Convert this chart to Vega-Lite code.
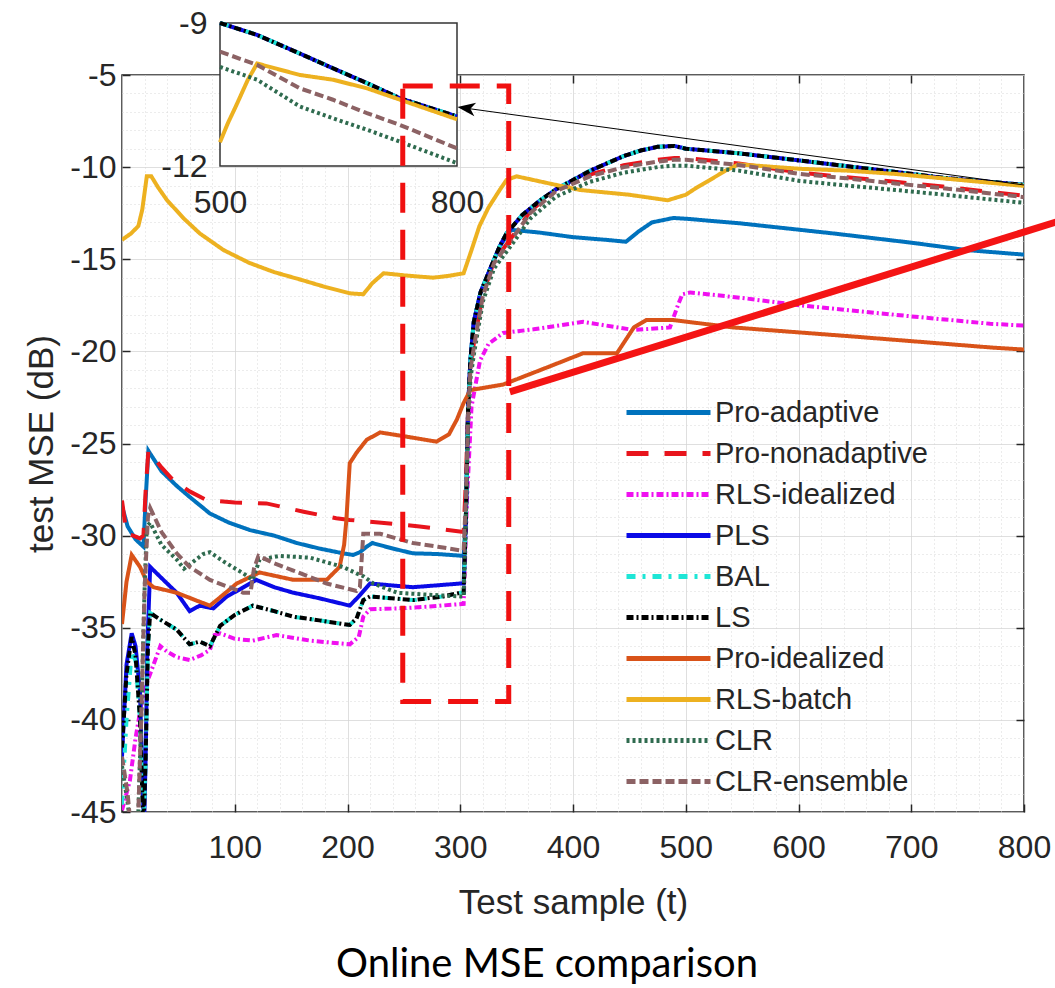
{
  "$schema": "https://vega.github.io/schema/vega-lite/v6.json",
  "width": 902,
  "height": 737,
  "autosize": "none",
  "padding": {"left": 122, "top": 75, "right": 31, "bottom": 176},
  "background": "white",
  "title": {"text": "Online MSE comparison", "orient": "bottom", "anchor": "middle", "font": "Lato", "fontSize": 40, "fontWeight": "normal", "color": "#000000", "offset": 25, "dx": -26},
  "datasets": {
    "mse": [
      {"s":"Pro-adaptive","t":0,"v":-28.4},{"s":"Pro-adaptive","t":5,"v":-29.5},{"s":"Pro-adaptive","t":12,"v":-30.2},{"s":"Pro-adaptive","t":19,"v":-30.6},{"s":"Pro-adaptive","t":21,"v":-28},{"s":"Pro-adaptive","t":23.4,"v":-25.4},{"s":"Pro-adaptive","t":35,"v":-26.5},{"s":"Pro-adaptive","t":48.5,"v":-27.3},{"s":"Pro-adaptive","t":60,"v":-27.9},{"s":"Pro-adaptive","t":78,"v":-28.8},{"s":"Pro-adaptive","t":95,"v":-29.3},{"s":"Pro-adaptive","t":113.5,"v":-29.7},{"s":"Pro-adaptive","t":135,"v":-30.0},{"s":"Pro-adaptive","t":155,"v":-30.4},{"s":"Pro-adaptive","t":175,"v":-30.7},{"s":"Pro-adaptive","t":196,"v":-30.96},{"s":"Pro-adaptive","t":205,"v":-31.05},{"s":"Pro-adaptive","t":211,"v":-30.9},{"s":"Pro-adaptive","t":217,"v":-30.6},{"s":"Pro-adaptive","t":222,"v":-30.4},{"s":"Pro-adaptive","t":240,"v":-30.7},{"s":"Pro-adaptive","t":258,"v":-30.96},{"s":"Pro-adaptive","t":280,"v":-31.0},{"s":"Pro-adaptive","t":303,"v":-31.1},{"s":"Pro-adaptive","t":305,"v":-29},{"s":"Pro-adaptive","t":307,"v":-23},{"s":"Pro-adaptive","t":309,"v":-20.5},{"s":"Pro-adaptive","t":312,"v":-18.4},{"s":"Pro-adaptive","t":318,"v":-16.8},{"s":"Pro-adaptive","t":326,"v":-15.6},{"s":"Pro-adaptive","t":335,"v":-14.3},{"s":"Pro-adaptive","t":345,"v":-13.4},{"s":"Pro-adaptive","t":370,"v":-13.55},{"s":"Pro-adaptive","t":400,"v":-13.8},{"s":"Pro-adaptive","t":430,"v":-13.95},{"s":"Pro-adaptive","t":447,"v":-14.05},{"s":"Pro-adaptive","t":458,"v":-13.5},{"s":"Pro-adaptive","t":470,"v":-13.0},{"s":"Pro-adaptive","t":489,"v":-12.76},{"s":"Pro-adaptive","t":500,"v":-12.8},{"s":"Pro-adaptive","t":548,"v":-13.05},{"s":"Pro-adaptive","t":631,"v":-13.6},{"s":"Pro-adaptive","t":700,"v":-14.1},{"s":"Pro-adaptive","t":749,"v":-14.5},{"s":"Pro-adaptive","t":800,"v":-14.75},

      {"s":"Pro-nonadaptive","t":0,"v":-28.1},{"s":"Pro-nonadaptive","t":4,"v":-29.9},{"s":"Pro-nonadaptive","t":10,"v":-30.0},{"s":"Pro-nonadaptive","t":16,"v":-30.15},{"s":"Pro-nonadaptive","t":19,"v":-30.0},{"s":"Pro-nonadaptive","t":21,"v":-27.5},{"s":"Pro-nonadaptive","t":23.4,"v":-25.4},{"s":"Pro-nonadaptive","t":35,"v":-26.3},{"s":"Pro-nonadaptive","t":45.5,"v":-27.0},{"s":"Pro-nonadaptive","t":60,"v":-27.6},{"s":"Pro-nonadaptive","t":75,"v":-28.07},{"s":"Pro-nonadaptive","t":100,"v":-28.2},{"s":"Pro-nonadaptive","t":128,"v":-28.25},{"s":"Pro-nonadaptive","t":161,"v":-28.7},{"s":"Pro-nonadaptive","t":190,"v":-29.06},{"s":"Pro-nonadaptive","t":202,"v":-29.15},{"s":"Pro-nonadaptive","t":230,"v":-29.3},{"s":"Pro-nonadaptive","t":264,"v":-29.5},{"s":"Pro-nonadaptive","t":303,"v":-29.8},{"s":"Pro-nonadaptive","t":305,"v":-27},{"s":"Pro-nonadaptive","t":307,"v":-23},{"s":"Pro-nonadaptive","t":309,"v":-20.8},{"s":"Pro-nonadaptive","t":312,"v":-19.6},{"s":"Pro-nonadaptive","t":320,"v":-16.9},{"s":"Pro-nonadaptive","t":330,"v":-15.1},{"s":"Pro-nonadaptive","t":347,"v":-13.7},{"s":"Pro-nonadaptive","t":362,"v":-12.4},{"s":"Pro-nonadaptive","t":385,"v":-11.2},{"s":"Pro-nonadaptive","t":415,"v":-10.4},{"s":"Pro-nonadaptive","t":445,"v":-9.9},{"s":"Pro-nonadaptive","t":475,"v":-9.6},{"s":"Pro-nonadaptive","t":490,"v":-9.5},{"s":"Pro-nonadaptive","t":500,"v":-9.5},{"s":"Pro-nonadaptive","t":547,"v":-9.8},{"s":"Pro-nonadaptive","t":601,"v":-10.3},{"s":"Pro-nonadaptive","t":643,"v":-10.55},{"s":"Pro-nonadaptive","t":686,"v":-10.8},{"s":"Pro-nonadaptive","t":728,"v":-11.05},{"s":"Pro-nonadaptive","t":800,"v":-11.55},

      {"s":"RLS-idealized","t":0,"v":-44.9},{"s":"RLS-idealized","t":7,"v":-43.3},{"s":"RLS-idealized","t":12,"v":-41},{"s":"RLS-idealized","t":17,"v":-39.2},{"s":"RLS-idealized","t":22,"v":-38.0},{"s":"RLS-idealized","t":28,"v":-37},{"s":"RLS-idealized","t":34,"v":-36.0},{"s":"RLS-idealized","t":40,"v":-36.3},{"s":"RLS-idealized","t":48.5,"v":-36.6},{"s":"RLS-idealized","t":60,"v":-36.75},{"s":"RLS-idealized","t":70,"v":-36.5},{"s":"RLS-idealized","t":78,"v":-36.2},{"s":"RLS-idealized","t":82,"v":-35.4},{"s":"RLS-idealized","t":87,"v":-35.3},{"s":"RLS-idealized","t":100,"v":-35.6},{"s":"RLS-idealized","t":116,"v":-35.7},{"s":"RLS-idealized","t":137,"v":-35.4},{"s":"RLS-idealized","t":167,"v":-35.7},{"s":"RLS-idealized","t":202,"v":-35.9},{"s":"RLS-idealized","t":210,"v":-35.5},{"s":"RLS-idealized","t":214,"v":-34.4},{"s":"RLS-idealized","t":220,"v":-34.0},{"s":"RLS-idealized","t":245,"v":-33.95},{"s":"RLS-idealized","t":273,"v":-33.85},{"s":"RLS-idealized","t":303,"v":-33.7},{"s":"RLS-idealized","t":306,"v":-28},{"s":"RLS-idealized","t":310,"v":-23},{"s":"RLS-idealized","t":317.5,"v":-20.5},{"s":"RLS-idealized","t":325,"v":-19.6},{"s":"RLS-idealized","t":338,"v":-19.0},{"s":"RLS-idealized","t":365,"v":-18.8},{"s":"RLS-idealized","t":409,"v":-18.4},{"s":"RLS-idealized","t":454,"v":-18.84},{"s":"RLS-idealized","t":486,"v":-18.7},{"s":"RLS-idealized","t":493,"v":-17.5},{"s":"RLS-idealized","t":497,"v":-16.9},{"s":"RLS-idealized","t":504,"v":-16.8},{"s":"RLS-idealized","t":550,"v":-17.1},{"s":"RLS-idealized","t":601,"v":-17.5},{"s":"RLS-idealized","t":700,"v":-18.1},{"s":"RLS-idealized","t":770,"v":-18.5},{"s":"RLS-idealized","t":800,"v":-18.6},

      {"s":"PLS","t":0,"v":-42},{"s":"PLS","t":4,"v":-37},{"s":"PLS","t":8.6,"v":-35.3},{"s":"PLS","t":12,"v":-36},{"s":"PLS","t":16,"v":-38.5},{"s":"PLS","t":18,"v":-43},{"s":"PLS","t":19.5,"v":-46},{"s":"PLS","t":21,"v":-42},{"s":"PLS","t":22.5,"v":-36},{"s":"PLS","t":25,"v":-31.7},{"s":"PLS","t":35,"v":-32.3},{"s":"PLS","t":48.5,"v":-33.1},{"s":"PLS","t":60,"v":-34.1},{"s":"PLS","t":69,"v":-33.8},{"s":"PLS","t":81,"v":-33.95},{"s":"PLS","t":93,"v":-33.3},{"s":"PLS","t":105,"v":-32.9},{"s":"PLS","t":119,"v":-32.4},{"s":"PLS","t":135,"v":-32.8},{"s":"PLS","t":152,"v":-33.1},{"s":"PLS","t":175,"v":-33.4},{"s":"PLS","t":202,"v":-33.8},{"s":"PLS","t":210,"v":-33.3},{"s":"PLS","t":220,"v":-32.6},{"s":"PLS","t":258,"v":-32.8},{"s":"PLS","t":300,"v":-32.6},{"s":"PLS","t":303,"v":-32.6},{"s":"PLS","t":305,"v":-29},{"s":"PLS","t":307,"v":-23},{"s":"PLS","t":309,"v":-20.5},{"s":"PLS","t":312,"v":-18.4},{"s":"PLS","t":318,"v":-16.8},{"s":"PLS","t":326,"v":-15.6},{"s":"PLS","t":335,"v":-14.3},{"s":"PLS","t":341,"v":-13.6},{"s":"PLS","t":355,"v":-12.6},{"s":"PLS","t":371,"v":-11.8},{"s":"PLS","t":385,"v":-11.2},{"s":"PLS","t":400,"v":-10.7},{"s":"PLS","t":415,"v":-10.2},{"s":"PLS","t":430,"v":-9.8},{"s":"PLS","t":445,"v":-9.4},{"s":"PLS","t":460,"v":-9.1},{"s":"PLS","t":475,"v":-8.9},{"s":"PLS","t":490,"v":-8.85},{"s":"PLS","t":500,"v":-9.0},{"s":"PLS","t":547,"v":-9.25},{"s":"PLS","t":601,"v":-9.64},{"s":"PLS","t":643,"v":-9.95},{"s":"PLS","t":686,"v":-10.26},{"s":"PLS","t":728,"v":-10.58},{"s":"PLS","t":800,"v":-10.96},

      {"s":"BAL","t":0,"v":-44.6},{"s":"BAL","t":4,"v":-40},{"s":"BAL","t":8.6,"v":-36.3},{"s":"BAL","t":12,"v":-36.8},{"s":"BAL","t":16,"v":-40},{"s":"BAL","t":19,"v":-46},{"s":"BAL","t":21,"v":-42},{"s":"BAL","t":23,"v":-36},{"s":"BAL","t":25,"v":-34.2},{"s":"BAL","t":35,"v":-34.6},{"s":"BAL","t":48.5,"v":-35.1},{"s":"BAL","t":60,"v":-35.9},{"s":"BAL","t":69,"v":-35.75},{"s":"BAL","t":78,"v":-36.0},{"s":"BAL","t":87,"v":-34.9},{"s":"BAL","t":100,"v":-34.3},{"s":"BAL","t":116,"v":-33.8},{"s":"BAL","t":135,"v":-34.1},{"s":"BAL","t":152,"v":-34.4},{"s":"BAL","t":175,"v":-34.6},{"s":"BAL","t":202,"v":-34.85},{"s":"BAL","t":208,"v":-34.5},{"s":"BAL","t":214,"v":-33.5},{"s":"BAL","t":220,"v":-33.3},{"s":"BAL","t":258,"v":-33.5},{"s":"BAL","t":285,"v":-33.3},{"s":"BAL","t":300,"v":-33.1},{"s":"BAL","t":303,"v":-33.1},{"s":"BAL","t":305,"v":-29},{"s":"BAL","t":307,"v":-23},{"s":"BAL","t":309,"v":-20.5},{"s":"BAL","t":312,"v":-18.4},{"s":"BAL","t":318,"v":-16.8},{"s":"BAL","t":326,"v":-15.6},{"s":"BAL","t":335,"v":-14.3},{"s":"BAL","t":341,"v":-13.6},{"s":"BAL","t":355,"v":-12.6},{"s":"BAL","t":371,"v":-11.8},{"s":"BAL","t":385,"v":-11.2},{"s":"BAL","t":400,"v":-10.7},{"s":"BAL","t":415,"v":-10.2},{"s":"BAL","t":430,"v":-9.8},{"s":"BAL","t":445,"v":-9.4},{"s":"BAL","t":460,"v":-9.1},{"s":"BAL","t":475,"v":-8.9},{"s":"BAL","t":490,"v":-8.85},{"s":"BAL","t":500,"v":-9.0},{"s":"BAL","t":547,"v":-9.25},{"s":"BAL","t":601,"v":-9.64},{"s":"BAL","t":643,"v":-9.95},{"s":"BAL","t":686,"v":-10.26},{"s":"BAL","t":728,"v":-10.58},{"s":"BAL","t":800,"v":-10.96},

      {"s":"LS","t":0,"v":-41.5},{"s":"LS","t":4,"v":-37.5},{"s":"LS","t":8.6,"v":-35.5},{"s":"LS","t":12,"v":-36.5},{"s":"LS","t":16,"v":-40},{"s":"LS","t":19,"v":-46},{"s":"LS","t":21,"v":-42},{"s":"LS","t":23,"v":-36},{"s":"LS","t":25,"v":-34.2},{"s":"LS","t":35,"v":-34.6},{"s":"LS","t":48.5,"v":-35.1},{"s":"LS","t":60,"v":-35.9},{"s":"LS","t":69,"v":-35.75},{"s":"LS","t":78,"v":-36.0},{"s":"LS","t":87,"v":-34.9},{"s":"LS","t":100,"v":-34.3},{"s":"LS","t":116,"v":-33.8},{"s":"LS","t":135,"v":-34.1},{"s":"LS","t":152,"v":-34.4},{"s":"LS","t":175,"v":-34.6},{"s":"LS","t":202,"v":-34.85},{"s":"LS","t":208,"v":-34.5},{"s":"LS","t":214,"v":-33.5},{"s":"LS","t":220,"v":-33.3},{"s":"LS","t":258,"v":-33.5},{"s":"LS","t":285,"v":-33.3},{"s":"LS","t":300,"v":-33.1},{"s":"LS","t":303,"v":-33.1},{"s":"LS","t":305,"v":-29},{"s":"LS","t":307,"v":-23},{"s":"LS","t":309,"v":-20.5},{"s":"LS","t":312,"v":-18.4},{"s":"LS","t":318,"v":-16.8},{"s":"LS","t":326,"v":-15.6},{"s":"LS","t":335,"v":-14.3},{"s":"LS","t":341,"v":-13.6},{"s":"LS","t":355,"v":-12.6},{"s":"LS","t":371,"v":-11.8},{"s":"LS","t":385,"v":-11.2},{"s":"LS","t":400,"v":-10.7},{"s":"LS","t":415,"v":-10.2},{"s":"LS","t":430,"v":-9.8},{"s":"LS","t":445,"v":-9.4},{"s":"LS","t":460,"v":-9.1},{"s":"LS","t":475,"v":-8.9},{"s":"LS","t":490,"v":-8.85},{"s":"LS","t":500,"v":-9.0},{"s":"LS","t":547,"v":-9.25},{"s":"LS","t":601,"v":-9.64},{"s":"LS","t":643,"v":-9.95},{"s":"LS","t":686,"v":-10.26},{"s":"LS","t":728,"v":-10.58},{"s":"LS","t":800,"v":-10.96},

      {"s":"Pro-idealized","t":0,"v":-34.8},{"s":"Pro-idealized","t":4,"v":-32.5},{"s":"Pro-idealized","t":8.6,"v":-31.05},{"s":"Pro-idealized","t":16,"v":-31.7},{"s":"Pro-idealized","t":22,"v":-32.5},{"s":"Pro-idealized","t":28,"v":-32.8},{"s":"Pro-idealized","t":48.5,"v":-33.1},{"s":"Pro-idealized","t":65,"v":-33.5},{"s":"Pro-idealized","t":78,"v":-33.8},{"s":"Pro-idealized","t":90,"v":-33.2},{"s":"Pro-idealized","t":101.7,"v":-32.6},{"s":"Pro-idealized","t":122,"v":-32.0},{"s":"Pro-idealized","t":152,"v":-32.4},{"s":"Pro-idealized","t":181.5,"v":-32.4},{"s":"Pro-idealized","t":193,"v":-31.7},{"s":"Pro-idealized","t":197,"v":-30.5},{"s":"Pro-idealized","t":199,"v":-29.15},{"s":"Pro-idealized","t":202,"v":-26.07},{"s":"Pro-idealized","t":208,"v":-25.5},{"s":"Pro-idealized","t":217,"v":-24.8},{"s":"Pro-idealized","t":229,"v":-24.4},{"s":"Pro-idealized","t":249.5,"v":-24.6},{"s":"Pro-idealized","t":279,"v":-24.9},{"s":"Pro-idealized","t":290,"v":-24.5},{"s":"Pro-idealized","t":297,"v":-23.7},{"s":"Pro-idealized","t":303,"v":-22.8},{"s":"Pro-idealized","t":309,"v":-22.1},{"s":"Pro-idealized","t":338,"v":-21.8},{"s":"Pro-idealized","t":380,"v":-20.8},{"s":"Pro-idealized","t":409,"v":-20.1},{"s":"Pro-idealized","t":439,"v":-20.1},{"s":"Pro-idealized","t":454,"v":-18.7},{"s":"Pro-idealized","t":465,"v":-18.3},{"s":"Pro-idealized","t":489,"v":-18.3},{"s":"Pro-idealized","t":542,"v":-18.7},{"s":"Pro-idealized","t":650,"v":-19.2},{"s":"Pro-idealized","t":773,"v":-19.8},{"s":"Pro-idealized","t":800,"v":-19.9},

      {"s":"RLS-batch","t":0,"v":-13.95},{"s":"RLS-batch","t":8,"v":-13.6},{"s":"RLS-batch","t":14.5,"v":-13.2},{"s":"RLS-batch","t":18,"v":-12.3},{"s":"RLS-batch","t":22,"v":-10.5},{"s":"RLS-batch","t":26,"v":-10.5},{"s":"RLS-batch","t":32,"v":-11.1},{"s":"RLS-batch","t":40,"v":-11.8},{"s":"RLS-batch","t":55,"v":-12.8},{"s":"RLS-batch","t":69,"v":-13.6},{"s":"RLS-batch","t":90,"v":-14.5},{"s":"RLS-batch","t":113,"v":-15.2},{"s":"RLS-batch","t":135,"v":-15.7},{"s":"RLS-batch","t":158,"v":-16.1},{"s":"RLS-batch","t":180,"v":-16.5},{"s":"RLS-batch","t":202,"v":-16.85},{"s":"RLS-batch","t":214,"v":-16.9},{"s":"RLS-batch","t":222,"v":-16.3},{"s":"RLS-batch","t":232,"v":-15.76},{"s":"RLS-batch","t":255,"v":-15.9},{"s":"RLS-batch","t":276,"v":-16.0},{"s":"RLS-batch","t":290,"v":-15.9},{"s":"RLS-batch","t":303,"v":-15.76},{"s":"RLS-batch","t":310,"v":-14.5},{"s":"RLS-batch","t":317,"v":-13.2},{"s":"RLS-batch","t":325,"v":-12.2},{"s":"RLS-batch","t":335,"v":-11.24},{"s":"RLS-batch","t":341,"v":-10.7},{"s":"RLS-batch","t":350,"v":-10.5},{"s":"RLS-batch","t":380,"v":-10.9},{"s":"RLS-batch","t":406,"v":-11.24},{"s":"RLS-batch","t":450,"v":-11.5},{"s":"RLS-batch","t":484,"v":-11.8},{"s":"RLS-batch","t":500,"v":-11.5},{"s":"RLS-batch","t":510,"v":-11.1},{"s":"RLS-batch","t":520,"v":-10.75},{"s":"RLS-batch","t":535,"v":-10.2},{"s":"RLS-batch","t":547,"v":-9.85},{"s":"RLS-batch","t":601,"v":-10.09},{"s":"RLS-batch","t":643,"v":-10.19},{"s":"RLS-batch","t":686,"v":-10.37},{"s":"RLS-batch","t":728,"v":-10.61},{"s":"RLS-batch","t":800,"v":-11.02},

      {"s":"CLR","t":0,"v":-42.5},{"s":"CLR","t":5,"v":-44.5},{"s":"CLR","t":8,"v":-46},{"s":"CLR","t":14,"v":-46},{"s":"CLR","t":17,"v":-40},{"s":"CLR","t":20,"v":-33},{"s":"CLR","t":22,"v":-29.5},{"s":"CLR","t":25,"v":-29.3},{"s":"CLR","t":35,"v":-30.5},{"s":"CLR","t":48.5,"v":-31.3},{"s":"CLR","t":55,"v":-31.8},{"s":"CLR","t":72,"v":-31.0},{"s":"CLR","t":78,"v":-30.9},{"s":"CLR","t":90,"v":-31.4},{"s":"CLR","t":107.5,"v":-32.05},{"s":"CLR","t":116,"v":-32.4},{"s":"CLR","t":122,"v":-31.3},{"s":"CLR","t":140,"v":-31.1},{"s":"CLR","t":167,"v":-31.2},{"s":"CLR","t":196,"v":-31.7},{"s":"CLR","t":208,"v":-32.05},{"s":"CLR","t":214,"v":-32.2},{"s":"CLR","t":223,"v":-32.6},{"s":"CLR","t":244,"v":-33.1},{"s":"CLR","t":270,"v":-33.2},{"s":"CLR","t":300,"v":-33.3},{"s":"CLR","t":303,"v":-33.3},{"s":"CLR","t":305,"v":-29},{"s":"CLR","t":307,"v":-24},{"s":"CLR","t":309,"v":-21.5},{"s":"CLR","t":312,"v":-20.2},{"s":"CLR","t":320,"v":-17.3},{"s":"CLR","t":330,"v":-15.5},{"s":"CLR","t":347,"v":-14.1},{"s":"CLR","t":362,"v":-12.8},{"s":"CLR","t":385,"v":-11.6},{"s":"CLR","t":415,"v":-10.8},{"s":"CLR","t":445,"v":-10.3},{"s":"CLR","t":475,"v":-10.0},{"s":"CLR","t":490,"v":-9.92},{"s":"CLR","t":500,"v":-9.92},{"s":"CLR","t":547,"v":-10.19},{"s":"CLR","t":601,"v":-10.75},{"s":"CLR","t":643,"v":-11.0},{"s":"CLR","t":686,"v":-11.24},{"s":"CLR","t":728,"v":-11.49},{"s":"CLR","t":800,"v":-11.94},

      {"s":"CLR-ensemble","t":0,"v":-42},{"s":"CLR-ensemble","t":5,"v":-44},{"s":"CLR-ensemble","t":8,"v":-46},{"s":"CLR-ensemble","t":14,"v":-46},{"s":"CLR-ensemble","t":17,"v":-40},{"s":"CLR-ensemble","t":20,"v":-33},{"s":"CLR-ensemble","t":23,"v":-29},{"s":"CLR-ensemble","t":25,"v":-28.5},{"s":"CLR-ensemble","t":35,"v":-29.8},{"s":"CLR-ensemble","t":48.5,"v":-30.96},{"s":"CLR-ensemble","t":60,"v":-31.7},{"s":"CLR-ensemble","t":78,"v":-32.4},{"s":"CLR-ensemble","t":95,"v":-32.8},{"s":"CLR-ensemble","t":107.5,"v":-33.1},{"s":"CLR-ensemble","t":114,"v":-33.1},{"s":"CLR-ensemble","t":117,"v":-31.8},{"s":"CLR-ensemble","t":121,"v":-31.1},{"s":"CLR-ensemble","t":135,"v":-31.5},{"s":"CLR-ensemble","t":152,"v":-31.9},{"s":"CLR-ensemble","t":181.5,"v":-32.6},{"s":"CLR-ensemble","t":208,"v":-33.0},{"s":"CLR-ensemble","t":211,"v":-32.8},{"s":"CLR-ensemble","t":214,"v":-29.9},{"s":"CLR-ensemble","t":229,"v":-29.9},{"s":"CLR-ensemble","t":258,"v":-30.4},{"s":"CLR-ensemble","t":280,"v":-30.6},{"s":"CLR-ensemble","t":300,"v":-30.8},{"s":"CLR-ensemble","t":303,"v":-30.8},{"s":"CLR-ensemble","t":305,"v":-28},{"s":"CLR-ensemble","t":307,"v":-23.5},{"s":"CLR-ensemble","t":309,"v":-21},{"s":"CLR-ensemble","t":312,"v":-19.8},{"s":"CLR-ensemble","t":320,"v":-17.0},{"s":"CLR-ensemble","t":330,"v":-15.2},{"s":"CLR-ensemble","t":347,"v":-13.8},{"s":"CLR-ensemble","t":362,"v":-12.5},{"s":"CLR-ensemble","t":385,"v":-11.3},{"s":"CLR-ensemble","t":415,"v":-10.5},{"s":"CLR-ensemble","t":445,"v":-10.0},{"s":"CLR-ensemble","t":475,"v":-9.7},{"s":"CLR-ensemble","t":490,"v":-9.6},{"s":"CLR-ensemble","t":500,"v":-9.6},{"s":"CLR-ensemble","t":547,"v":-9.88},{"s":"CLR-ensemble","t":601,"v":-10.37},{"s":"CLR-ensemble","t":643,"v":-10.61},{"s":"CLR-ensemble","t":686,"v":-10.89},{"s":"CLR-ensemble","t":728,"v":-11.14},{"s":"CLR-ensemble","t":800,"v":-11.63}
    ]
  },
  "layer": [
    {
      "data": {"name": "mse"},
      "mark": {"type": "line", "clip": true, "strokeWidth": 4},
      "encoding": {
        "x": {"field": "t", "type": "quantitative",
          "scale": {"domain": [0, 800], "nice": false, "zero": false},
          "axis": {"values": [0,20,40,60,80,100,120,140,160,180,200,220,240,260,280,300,320,340,360,380,400,420,440,460,480,500,520,540,560,580,600,620,640,660,680,700,720,740,760,780,800],
            "labelExpr": "datum.value % 100 === 0 && datum.value > 0 ? '' + datum.value : ''",
            "labelOverlap": false, "labelFlush": false, "domain": false,
            "grid": true,
            "gridColor": {"condition": {"test": "datum.value % 100 === 0", "value": "#d4d4d4"}, "value": "#d8d8d8"},
            "gridDash": {"condition": {"test": "datum.value % 100 === 0", "value": [1, 0]}, "value": [1, 3]},
            "tickOpacity": {"condition": {"test": "datum.value % 100 === 0", "value": 1}, "value": 0},
            "tickSize": -8, "labelPadding": 28,
            "title": "Test sample (t)", "titlePadding": 22}},
        "y": {"field": "v", "type": "quantitative",
          "scale": {"domain": [-45, -5], "nice": false, "zero": false},
          "axis": {"values": [-45,-44,-43,-42,-41,-40,-39,-38,-37,-36,-35,-34,-33,-32,-31,-30,-29,-28,-27,-26,-25,-24,-23,-22,-21,-20,-19,-18,-17,-16,-15,-14,-13,-12,-11,-10,-9,-8,-7,-6,-5],
            "labelExpr": "datum.value % 5 === 0 ? '-' + abs(datum.value) : ''",
            "labelOverlap": false, "labelFlush": false, "domain": false,
            "grid": true,
            "gridColor": {"condition": {"test": "datum.value % 5 === 0", "value": "#d4d4d4"}, "value": "#d8d8d8"},
            "gridDash": {"condition": {"test": "datum.value % 5 === 0", "value": [1, 0]}, "value": [1, 3]},
            "tickOpacity": {"condition": {"test": "datum.value % 5 === 0", "value": 1}, "value": 0},
            "tickSize": -8, "labelPadding": 14,
            "title": "test MSE (dB)", "titlePadding": 10}},
        "color": {"field": "s", "type": "nominal",
          "scale": {"domain": ["Pro-adaptive","Pro-nonadaptive","RLS-idealized","PLS","BAL","LS","Pro-idealized","RLS-batch","CLR","CLR-ensemble"],
                    "range": ["#0072BD","#E8141C","#F010F0","#0a0ae6","#1ee6d6","#000000","#D95319","#EDB120","#2F6B4F","#8C6264"]},
          "legend": {"title": null, "orient": "none", "legendX": 521, "legendY": 312, "direction": "vertical"}},
        "strokeDash": {"field": "s", "type": "nominal",
          "scale": {"domain": ["Pro-adaptive","Pro-nonadaptive","RLS-idealized","PLS","BAL","LS","Pro-idealized","RLS-batch","CLR","CLR-ensemble"],
                    "range": [[1,0],[22,16],[7,3,2,3],[1,0],[9,7,3,7],[7,3,2,3],[1,0],[1,0],[3,3],[9,4]]},
          "legend": {"title": null, "orient": "none", "legendX": 521, "legendY": 312, "direction": "vertical"}}
      }
    },
    {
      "layer": [
        {
          "data": {"values": [{"t": 500, "t2": 800, "v": -12, "v2": -9}]},
          "mark": {"type": "rect", "fill": "white", "stroke": "#333333", "strokeWidth": 1.5},
          "encoding": {
            "x": {"field": "t", "type": "quantitative", "scale": {"domain": [500, 800], "range": [98, 335], "nice": false, "zero": false},
              "axis": {"orient": "bottom", "offset": -646, "values": [500, 800], "grid": false, "ticks": false, "domain": false, "labelFlush": false, "labelPadding": 21, "title": null}},
            "x2": {"field": "t2"},
            "y": {"field": "v", "type": "quantitative", "scale": {"domain": [-12, -9], "range": [91, -52], "nice": false, "zero": false},
              "axis": {"orient": "left", "offset": -98, "values": [-12, -9], "labelExpr": "'-' + abs(datum.value)", "grid": false, "ticks": false, "domain": false, "labelFlush": false, "labelPadding": 13, "title": null}},
            "y2": {"field": "v2"}
          }
        },
        {
          "data": {"name": "mse"},
          "transform": [{"filter": "datum.t >= 500 && datum.v >= -12.05 && datum.s !== 'Pro-nonadaptive'"}],
          "mark": {"type": "line", "strokeWidth": 4},
          "encoding": {
            "x": {"field": "t", "type": "quantitative", "scale": {"domain": [500, 800], "range": [98, 335], "nice": false, "zero": false},
              "axis": {"orient": "bottom", "offset": -646, "values": [500, 800], "grid": false, "ticks": false, "domain": false, "labelFlush": false, "labelPadding": 21, "title": null}},
            "y": {"field": "v", "type": "quantitative", "scale": {"domain": [-12, -9], "range": [91, -52], "nice": false, "zero": false},
              "axis": {"orient": "left", "offset": -98, "values": [-12, -9], "labelExpr": "'-' + abs(datum.value)", "grid": false, "ticks": false, "domain": false, "labelFlush": false, "labelPadding": 13, "title": null}},
            "color": {"field": "s", "type": "nominal",
              "scale": {"domain": ["Pro-adaptive","Pro-nonadaptive","RLS-idealized","PLS","BAL","LS","Pro-idealized","RLS-batch","CLR","CLR-ensemble"],
                        "range": ["#0072BD","#E8141C","#F010F0","#0a0ae6","#1ee6d6","#000000","#D95319","#EDB120","#2F6B4F","#8C6264"]},
              "legend": {"title": null, "orient": "none", "legendX": 521, "legendY": 312, "direction": "vertical"}},
            "strokeDash": {"field": "s", "type": "nominal",
              "scale": {"domain": ["Pro-adaptive","Pro-nonadaptive","RLS-idealized","PLS","BAL","LS","Pro-idealized","RLS-batch","CLR","CLR-ensemble"],
                        "range": [[1,0],[22,16],[7,3,2,3],[1,0],[9,7,3,7],[7,3,2,3],[1,0],[1,0],[3,3],[9,4]]},
              "legend": {"title": null, "orient": "none", "legendX": 521, "legendY": 312, "direction": "vertical"}}
          }
        }
      ]
    },
    {
      "layer": [
        {
          "data": {"values": [{"t": 249, "t2": 343, "v": -39, "v2": -5.6}]},
          "mark": {"type": "rect", "fill": null, "fillOpacity": 0, "stroke": "#F01010", "strokeWidth": 5, "strokeDash": [30, 17]},
          "encoding": {
            "x": {"field": "t", "type": "quantitative", "scale": {"domain": [0, 800], "nice": false, "zero": false},
              "axis": {"orient": "top", "values": [100,200,300,400,500,600,700], "labels": false, "grid": false, "domain": false, "tickSize": -8, "title": null}},
            "x2": {"field": "t2"},
            "y": {"field": "v", "type": "quantitative", "scale": {"domain": [-45, -5], "nice": false, "zero": false},
              "axis": {"orient": "right", "values": [-40,-35,-30,-25,-20,-15,-10], "labels": false, "grid": false, "domain": false, "tickSize": -8, "title": null}},
            "y2": {"field": "v2"}
          }
        },
        {
          "data": {"values": [{"t": 800, "t2": 300, "v": -10.97, "v2": -6.76}]},
          "mark": {"type": "rule", "stroke": "#000000", "strokeWidth": 1},
          "encoding": {
            "x": {"field": "t", "type": "quantitative", "scale": {"domain": [0, 800], "nice": false, "zero": false},
              "axis": {"orient": "top", "values": [100,200,300,400,500,600,700], "labels": false, "grid": false, "domain": false, "tickSize": -8, "title": null}},
            "x2": {"field": "t2"},
            "y": {"field": "v", "type": "quantitative", "scale": {"domain": [-45, -5], "nice": false, "zero": false},
              "axis": {"orient": "right", "values": [-40,-35,-30,-25,-20,-15,-10], "labels": false, "grid": false, "domain": false, "tickSize": -8, "title": null}},
            "y2": {"field": "v2"}
          }
        },
        {
          "data": {"values": [{"t": 297.5, "v": -6.74}]},
          "mark": {"type": "point", "shape": "M0,0L2,-0.75L1.45,0L2,0.75Z", "size": 324, "angle": 7.9, "filled": true, "fill": "#000000", "stroke": null, "opacity": 1},
          "encoding": {
            "x": {"field": "t", "type": "quantitative", "scale": {"domain": [0, 800], "nice": false, "zero": false},
              "axis": {"orient": "top", "values": [100,200,300,400,500,600,700], "labels": false, "grid": false, "domain": false, "tickSize": -8, "title": null}},
            "y": {"field": "v", "type": "quantitative", "scale": {"domain": [-45, -5], "nice": false, "zero": false},
              "axis": {"orient": "right", "values": [-40,-35,-30,-25,-20,-15,-10], "labels": false, "grid": false, "domain": false, "tickSize": -8, "title": null}}
          }
        },
        {
          "data": {"values": [{"t": 344, "t2": 830, "v": -22.2, "v2": -12.95}]},
          "mark": {"type": "rule", "stroke": "#F41414", "strokeWidth": 7},
          "encoding": {
            "x": {"field": "t", "type": "quantitative", "scale": {"domain": [0, 800], "nice": false, "zero": false},
              "axis": {"orient": "top", "values": [100,200,300,400,500,600,700], "labels": false, "grid": false, "domain": false, "tickSize": -8, "title": null}},
            "x2": {"field": "t2"},
            "y": {"field": "v", "type": "quantitative", "scale": {"domain": [-45, -5], "nice": false, "zero": false},
              "axis": {"orient": "right", "values": [-40,-35,-30,-25,-20,-15,-10], "labels": false, "grid": false, "domain": false, "tickSize": -8, "title": null}},
            "y2": {"field": "v2"}
          }
        }
      ]
    }
  ],
  "resolve": {"scale": {"x": "independent", "y": "independent"}, "axis": {"x": "independent", "y": "independent"}},
  "config": {
    "view": {"stroke": "#262626", "strokeWidth": 1.5},
    "font": "Liberation Sans",
    "axis": {"labelFont": "Liberation Sans", "labelFontSize": 32, "labelColor": "#262626", "titleFont": "Liberation Sans", "titleFontSize": 35, "titleFontWeight": "normal", "titleColor": "#262626", "tickColor": "#262626", "tickWidth": 1.5},
    "legend": {"labelFont": "Liberation Sans", "labelFontSize": 29, "labelColor": "#262626", "symbolType": "M-1.826,0H1.826", "symbolSize": 2116, "symbolStrokeWidth": 5, "labelOffset": 21, "rowPadding": 0, "padding": 0, "labelLimit": 500, "symbolOpacity": 1}
  }
}
